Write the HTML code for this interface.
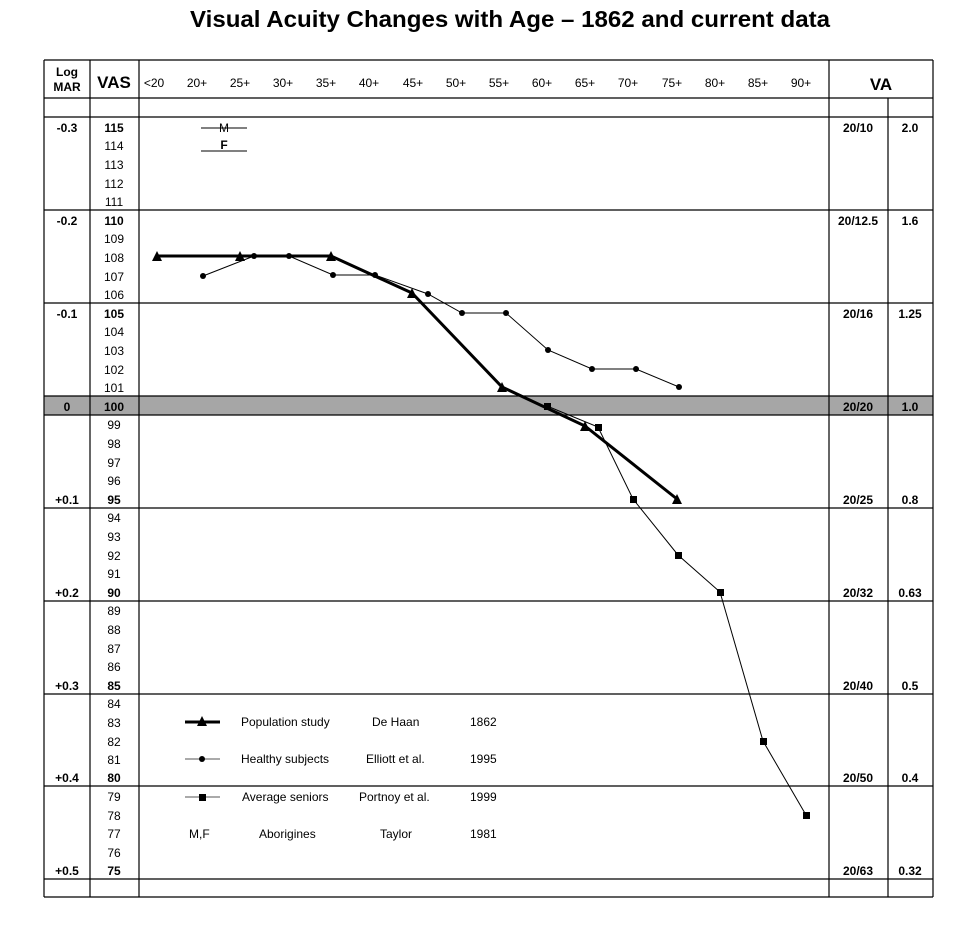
<!DOCTYPE html>
<html><head><meta charset="utf-8"><style>
body{margin:0;background:#fff}
svg{display:block}
text{font-family:"Liberation Sans",Arial,sans-serif;fill:#000}
.s{font-size:12px}
.b{font-size:12px;font-weight:bold}
</style></head><body>
<svg width="961" height="929" viewBox="0 0 961 929" xmlns="http://www.w3.org/2000/svg">
<text x="510" y="27" text-anchor="middle" font-size="23" font-weight="bold" textLength="640" lengthAdjust="spacingAndGlyphs">Visual Acuity Changes with Age – 1862 and current data</text>
<rect x="44" y="396" width="889" height="19" fill="#a6a6a6"/>
<g stroke="#000" stroke-width="1.2" fill="none">
<line x1="44" y1="60" x2="933" y2="60"/>
<line x1="44" y1="98" x2="933" y2="98"/>
<line x1="44" y1="117" x2="933" y2="117"/>
<line x1="44" y1="210" x2="933" y2="210"/>
<line x1="44" y1="303" x2="933" y2="303"/>
<line x1="44" y1="396" x2="933" y2="396"/>
<line x1="44" y1="415" x2="933" y2="415"/>
<line x1="44" y1="508" x2="933" y2="508"/>
<line x1="44" y1="601" x2="933" y2="601"/>
<line x1="44" y1="694" x2="933" y2="694"/>
<line x1="44" y1="786" x2="933" y2="786"/>
<line x1="44" y1="879" x2="933" y2="879"/>
<line x1="44" y1="897" x2="933" y2="897"/>
<line x1="44" y1="60" x2="44" y2="897"/>
<line x1="90" y1="60" x2="90" y2="897"/>
<line x1="139" y1="60" x2="139" y2="897"/>
<line x1="829" y1="60" x2="829" y2="897"/>
<line x1="888" y1="98" x2="888" y2="897"/>
<line x1="933" y1="60" x2="933" y2="897"/>
</g>
<text x="67" y="76" text-anchor="middle" class="b">Log</text>
<text x="67" y="91" text-anchor="middle" class="b">MAR</text>
<text x="114" y="88" text-anchor="middle" font-size="17" font-weight="bold">VAS</text>
<text x="881" y="90" text-anchor="middle" font-size="17" font-weight="bold">VA</text>
<g class="s" text-anchor="middle">
<text x="154" y="87">&lt;20</text><text x="197" y="87">20+</text><text x="240" y="87">25+</text><text x="283" y="87">30+</text><text x="326" y="87">35+</text><text x="369" y="87">40+</text><text x="413" y="87">45+</text><text x="456" y="87">50+</text><text x="499" y="87">55+</text><text x="542" y="87">60+</text><text x="585" y="87">65+</text><text x="628" y="87">70+</text><text x="672" y="87">75+</text><text x="715" y="87">80+</text><text x="758" y="87">85+</text><text x="801" y="87">90+</text>
</g>
<g text-anchor="middle">
<text x="114" y="132" class="b">115</text><text x="114" y="150" class="s">114</text><text x="114" y="169" class="s">113</text><text x="114" y="188" class="s">112</text><text x="114" y="206" class="s">111</text>
<text x="114" y="225" class="b">110</text><text x="114" y="243" class="s">109</text><text x="114" y="262" class="s">108</text><text x="114" y="281" class="s">107</text><text x="114" y="299" class="s">106</text>
<text x="114" y="318" class="b">105</text><text x="114" y="336" class="s">104</text><text x="114" y="355" class="s">103</text><text x="114" y="374" class="s">102</text><text x="114" y="392" class="s">101</text>
<text x="114" y="411" class="b">100</text><text x="114" y="429" class="s">99</text><text x="114" y="448" class="s">98</text><text x="114" y="467" class="s">97</text><text x="114" y="485" class="s">96</text>
<text x="114" y="504" class="b">95</text><text x="114" y="522" class="s">94</text><text x="114" y="541" class="s">93</text><text x="114" y="560" class="s">92</text><text x="114" y="578" class="s">91</text>
<text x="114" y="597" class="b">90</text><text x="114" y="615" class="s">89</text><text x="114" y="634" class="s">88</text><text x="114" y="653" class="s">87</text><text x="114" y="671" class="s">86</text>
<text x="114" y="690" class="b">85</text><text x="114" y="708" class="s">84</text><text x="114" y="727" class="s">83</text><text x="114" y="746" class="s">82</text><text x="114" y="764" class="s">81</text>
<text x="114" y="782" class="b">80</text><text x="114" y="801" class="s">79</text><text x="114" y="820" class="s">78</text><text x="114" y="838" class="s">77</text><text x="114" y="857" class="s">76</text>
<text x="114" y="875" class="b">75</text>
</g>
<g class="b" text-anchor="middle">
<text x="67" y="132">-0.3</text><text x="67" y="225">-0.2</text><text x="67" y="318">-0.1</text><text x="67" y="411">0</text><text x="67" y="504">+0.1</text><text x="67" y="597">+0.2</text><text x="67" y="690">+0.3</text><text x="67" y="782">+0.4</text><text x="67" y="875">+0.5</text>
<text x="858" y="132">20/10</text><text x="910" y="132">2.0</text>
<text x="858" y="225">20/12.5</text><text x="910" y="225">1.6</text>
<text x="858" y="318">20/16</text><text x="910" y="318">1.25</text>
<text x="858" y="411">20/20</text><text x="910" y="411">1.0</text>
<text x="858" y="504">20/25</text><text x="910" y="504">0.8</text>
<text x="858" y="597">20/32</text><text x="910" y="597">0.63</text>
<text x="858" y="690">20/40</text><text x="910" y="690">0.5</text>
<text x="858" y="782">20/50</text><text x="910" y="782">0.4</text>
<text x="858" y="875">20/63</text><text x="910" y="875">0.32</text>
</g>
<line x1="201" y1="128" x2="247" y2="128" stroke="#000" stroke-width="1"/>
<text x="224" y="132" class="s" text-anchor="middle" fill="#5a3a2a">M</text>
<line x1="201" y1="151" x2="247" y2="151" stroke="#000" stroke-width="1"/>
<text x="224" y="149" class="b" text-anchor="middle">F</text>
<polyline points="203,276 254,256 289,256 333,275 375,275 428,294 462,313 506,313 548,350 592,369 636,369 679,387" fill="none" stroke="#000" stroke-width="1"/>
<g fill="#000"><circle cx="203" cy="276" r="3"/><circle cx="254" cy="256" r="3"/><circle cx="289" cy="256" r="3"/><circle cx="333" cy="275" r="3"/><circle cx="375" cy="275" r="3"/><circle cx="428" cy="294" r="3"/><circle cx="462" cy="313" r="3"/><circle cx="506" cy="313" r="3"/><circle cx="548" cy="350" r="3"/><circle cx="592" cy="369" r="3"/><circle cx="636" cy="369" r="3"/><circle cx="679" cy="387" r="3"/></g>
<polyline points="547,406 598,427 633,499 678,555 720,592 763,741 806,815" fill="none" stroke="#000" stroke-width="1"/>
<g fill="#000"><rect x="544" y="403" width="7" height="7"/><rect x="595" y="424" width="7" height="7"/><rect x="630" y="496" width="7" height="7"/><rect x="675" y="552" width="7" height="7"/><rect x="717" y="589" width="7" height="7"/><rect x="760" y="738" width="7" height="7"/><rect x="803" y="812" width="7" height="7"/></g>
<polyline points="157,256 240,256 331,256 412,293 502,387 585,426 677,499" fill="none" stroke="#000" stroke-width="3"/>
<g fill="#000">
<polygon points="157,251 152,261 162,261"/><polygon points="240,251 235,261 245,261"/><polygon points="331,251 326,261 336,261"/><polygon points="412,288 407,298 417,298"/><polygon points="502,382 497,392 507,392"/><polygon points="585,421 580,431 590,431"/><polygon points="677,494 672,504 682,504"/>
</g>
<line x1="185" y1="722" x2="220" y2="722" stroke="#000" stroke-width="3"/>
<polygon points="202,716 197,726 207,726" fill="#000"/>
<line x1="185" y1="759" x2="220" y2="759" stroke="#555" stroke-width="1"/>
<circle cx="202" cy="759" r="3" fill="#000"/>
<line x1="185" y1="797" x2="220" y2="797" stroke="#555" stroke-width="1"/>
<rect x="199" y="794" width="7" height="7" fill="#000"/>
<g class="s">
<text x="241" y="726">Population study</text><text x="372" y="726">De Haan</text><text x="470" y="726">1862</text>
<text x="241" y="763">Healthy subjects</text><text x="366" y="763">Elliott et al.</text><text x="470" y="763">1995</text>
<text x="242" y="801">Average seniors</text><text x="359" y="801">Portnoy et al.</text><text x="470" y="801">1999</text>
<text x="189" y="838">M,F</text><text x="259" y="838">Aborigines</text><text x="380" y="838">Taylor</text><text x="470" y="838">1981</text>
</g>
</svg>
</body></html>
